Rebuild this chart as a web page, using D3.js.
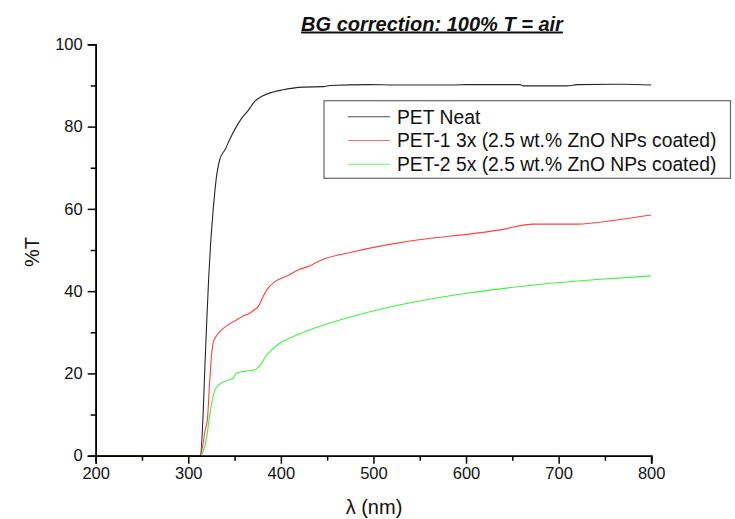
<!DOCTYPE html>
<html>
<head>
<meta charset="utf-8">
<script src="https://cdn.jsdelivr.net/npm/d3@7"></script>
<style>
  html, body { margin: 0; padding: 0; background: #fff; }
  svg { display: block; font-family: Arial, "Liberation Sans", sans-serif; }
</style>
</head>
<body>
<svg id="chart" width="735" height="519"></svg>
<script>
const title = "BG correction: 100% T = air";
const xLabel = "λ (nm)";
const yLabel = "%T";
const seriesNames = ["PET Neat", "PET-1 3x (2.5 wt.% ZnO NPs coated)", "PET-2 5x (2.5 wt.% ZnO NPs coated)"];
const seriesColors = ["#000000", "#ff0000", "#00ee00"];
const xTicks = [200, 300, 400, 500, 600, 700, 800];
const yTicks = [0, 20, 40, 60, 80, 100];

// [wavelength nm, %T]
const petNeat = [[200,0],[313,0],[316,10],[318,22],[320,33],[322,43],[324,51],[327,60],[330,67],[334,72],[340,74.5],[345,77],[350,79.2],[357,81.8],[365,84],[372,86.2],[379,87.3],[390,88.3],[401,88.9],[424,89.6],[446,89.7],[453,90.0],[496,90.2],[522,90.1],[586,90.1],[600,90.2],[658,90.2],[662,89.9],[709,89.9],[720,90.2],[770,90.3],[800,90.1]];
const pet1 = [[200,0],[313,0],[316,3],[318,6],[320.6,8.7],[322.8,16.8],[325.3,24.9],[327,27.5],[330,29],[336,30.6],[343,31.8],[352,33],[358,33.8],[366.7,34.7],[372,35.6],[375.7,36.3],[380,38.3],[384.8,40.3],[393.7,42.3],[406,43.6],[419,45.2],[431,46.1],[442,47.4],[475,49.4],[529,51.8],[560,52.8],[601,53.8],[637,54.9],[673,56.3],[720,56.3],[763,57.3],[800,58.5]];
const pet2 = [[200,0],[313,0],[316,1],[320,4.7],[322.4,8.7],[325.3,12.8],[328.9,16],[332,17],[336,17.7],[342,18.3],[348.7,18.9],[352,20.1],[360,20.5],[372,20.9],[376,21.6],[379.4,22.5],[383,24],[388.3,25.3],[399,27.4],[410,28.6],[431.5,30.6],[464,33],[529,36.7],[601,39.5],[673,41.5],[745,42.9],[800,43.7]];
const allSeries = [petNeat, pet1, pet2];

const svg = d3.select("#chart");
const x = d3.scaleLinear().domain([200, 800]).range([95.7, 651.2]);
const y = d3.scaleLinear().domain([0, 100]).range([455.7, 44.3]);

// curves
const line = d3.line().x(d => x(d[0])).y(d => y(d[1])).curve(d3.curveMonotoneX);
allSeries.forEach((s, i) => {
  svg.append("path").datum(s)
    .attr("d", line)
    .attr("fill", "none")
    .attr("stroke", seriesColors[i])
    .attr("stroke-opacity", i === 0 ? 0.85 : 0.75)
    .attr("stroke-width", 1.1);
});

// axes
const xMinor = d3.range(250, 800, 100);
const yMinor = d3.range(10, 100, 20);

const gx = svg.append("g").attr("transform", `translate(0,${y(0)})`);
gx.call(d3.axisBottom(x).tickValues(xTicks).tickSize(8).tickPadding(4).tickFormat(d3.format("d")));
gx.append("g").call(d3.axisBottom(x).tickValues(xMinor).tickSize(5).tickFormat(""));
gx.selectAll(".domain").attr("stroke", "#000").attr("stroke-width", 1.6);
gx.selectAll(".tick line").attr("stroke", "#000").attr("stroke-width", 1.5);
gx.selectAll("text").attr("font-size", 16.5).attr("fill", "#111").attr("font-family", "Arial, 'Liberation Sans', sans-serif");

const gy = svg.append("g").attr("transform", `translate(${x(200)},0)`);
gy.call(d3.axisLeft(y).tickValues(yTicks).tickSize(8).tickPadding(5).tickFormat(d3.format("d")));
gy.append("g").call(d3.axisLeft(y).tickValues(yMinor).tickSize(5).tickFormat(""));
gy.selectAll(".domain").attr("stroke", "#000").attr("stroke-width", 1.6);
gy.selectAll(".tick line").attr("stroke", "#000").attr("stroke-width", 1.5);
gy.selectAll("text").attr("font-size", 16.5).attr("fill", "#111").attr("font-family", "Arial, 'Liberation Sans', sans-serif");

// title
svg.append("text")
  .attr("x", 432).attr("y", 30.5)
  .attr("text-anchor", "middle")
  .attr("font-size", 20).attr("font-weight", "bold").attr("font-style", "italic")
  .attr("text-decoration", "underline")
  .attr("fill", "#111")
  .text(title);

// axis labels
svg.append("text")
  .attr("transform", "translate(39,252) rotate(-90)")
  .attr("text-anchor", "middle")
  .attr("font-size", 20).attr("fill", "#111")
  .text(yLabel);
svg.append("text")
  .attr("x", 374).attr("y", 514)
  .attr("text-anchor", "middle")
  .attr("font-size", 20).attr("fill", "#111")
  .text(xLabel);

// legend
const lg = svg.append("g");
lg.append("rect").attr("x", 324).attr("y", 100.7).attr("width", 406.5).attr("height", 77.6)
  .attr("fill", "#fff").attr("stroke", "#666").attr("stroke-width", 1.2);
const rowY = [116.7, 140.5, 164.2];
seriesNames.forEach((name, i) => {
  lg.append("line").attr("x1", 348).attr("x2", 390).attr("y1", rowY[i]).attr("y2", rowY[i])
    .attr("stroke", seriesColors[i]).attr("stroke-opacity", i === 0 ? 0.7 : 0.6).attr("stroke-width", 1.1);
  lg.append("text").attr("x", 397).attr("y", rowY[i] + 6.8)
    .attr("font-size", 19.3).attr("fill", "#111").text(name);
});
</script>
</body>
</html>
